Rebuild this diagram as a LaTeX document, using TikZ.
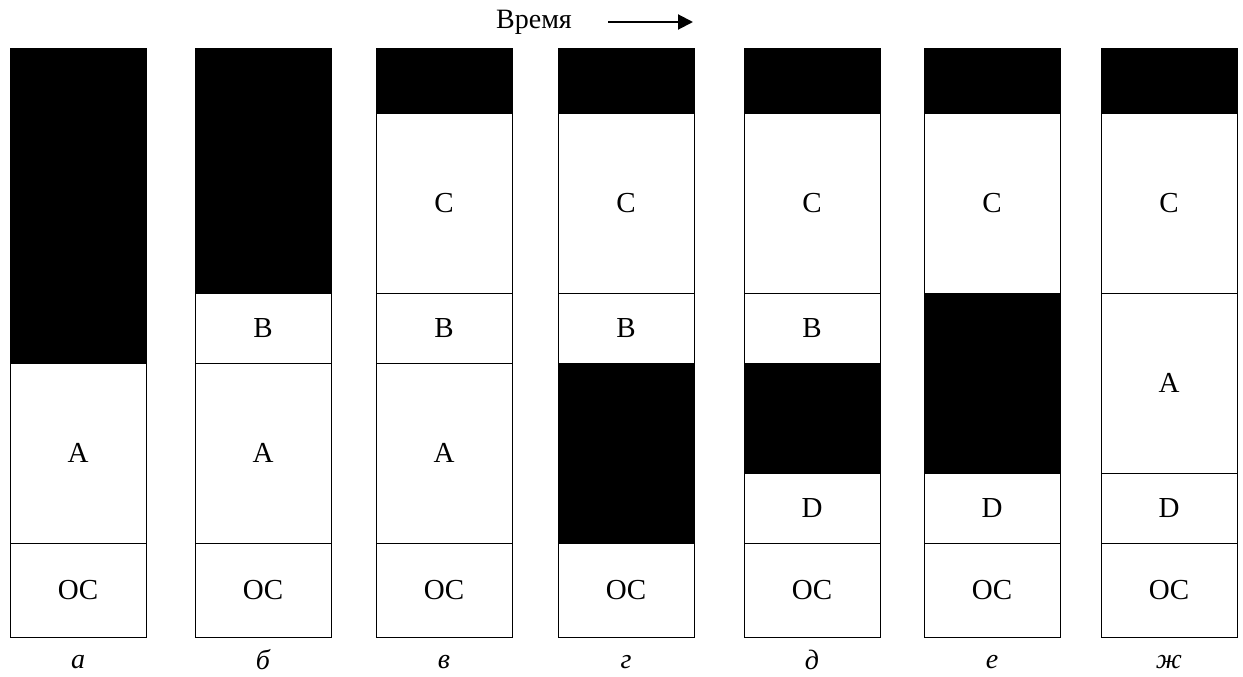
\documentclass[tikz,border=0pt]{standalone}
\usepackage{fontspec}
\setmainfont{Liberation Serif}
\usetikzlibrary{arrows.meta}
\newcommand\mseg[5]{\draw[box] (#1,#2) rectangle (#1+136,#3); \node[lbl] (#5) at (#1+68,{(#2+#3)/2}) {#4};}
\newcommand\mhole[3]{\draw[hole] (#1,#2) rectangle (#1+136,#3);}
\begin{document}
\begin{tikzpicture}[x=1pt,y=-1pt,
  box/.style={draw=black,line width=0.9pt,fill=white},
  hole/.style={fill=black,draw=black,line width=0.9pt},
  lbl/.style={font=\fontsize{29}{32}\selectfont,inner sep=0pt},
  capt/.style={font=\fontsize{28}{30}\selectfont\itshape,inner sep=0pt}]
\useasboundingbox (0,0) rectangle (1243,677);
% a
\mhole{10}{48}{363}
\mseg{10}{363}{543}{A}{aA}
\mseg{10}{543}{637}{OC}{aOS}
\node[capt] (la) at (78,662) {а};
% b
\mhole{195}{48}{293}
\mseg{195}{293}{363}{B}{bB}
\mseg{195}{363}{543}{A}{bA}
\mseg{195}{543}{637}{OC}{bOS}
\node[capt] (lb) at (263,660) {б};
% v
\mhole{376}{48}{113}
\mseg{376}{113}{293}{C}{vC}
\mseg{376}{293}{363}{B}{vB}
\mseg{376}{363}{543}{A}{vA}
\mseg{376}{543}{637}{OC}{vOS}
\node[capt] (lv) at (444,662) {в};
% g
\mhole{558}{48}{113}
\mseg{558}{113}{293}{C}{gC}
\mseg{558}{293}{363}{B}{gB}
\mhole{558}{363}{543}
\mseg{558}{543}{637}{OC}{gOS}
\node[capt] (lg) at (626,662) {г};
% d
\mhole{744}{48}{113}
\mseg{744}{113}{293}{C}{dC}
\mseg{744}{293}{363}{B}{dB}
\mhole{744}{363}{473}
\mseg{744}{473}{543}{D}{dD}
\mseg{744}{543}{637}{OC}{dOS}
\node[capt] (ld) at (812,660) {д};
% e
\mhole{924}{48}{113}
\mseg{924}{113}{293}{C}{eC}
\mhole{924}{293}{473}
\mseg{924}{473}{543}{D}{eD}
\mseg{924}{543}{637}{OC}{eOS}
\node[capt] (le) at (992,662) {е};
% zh
\mhole{1101}{48}{113}
\mseg{1101}{113}{293}{C}{zC}
\mseg{1101}{293}{473}{A}{zA}
\mseg{1101}{473}{543}{D}{zD}
\mseg{1101}{543}{637}{OC}{zOS}
\node[capt] (lz) at (1169,662) {ж};
% time
\node[lbl,font=\fontsize{28}{30}\selectfont] (time) at (534,22) {Время};
\coordinate (t0) at (608,22);
\coordinate (t1) at (693,22);
\draw[line width=2pt,-{Triangle[length=15pt,width=15pt]}] (t0) -- (t1);
\end{tikzpicture}
\end{document}
